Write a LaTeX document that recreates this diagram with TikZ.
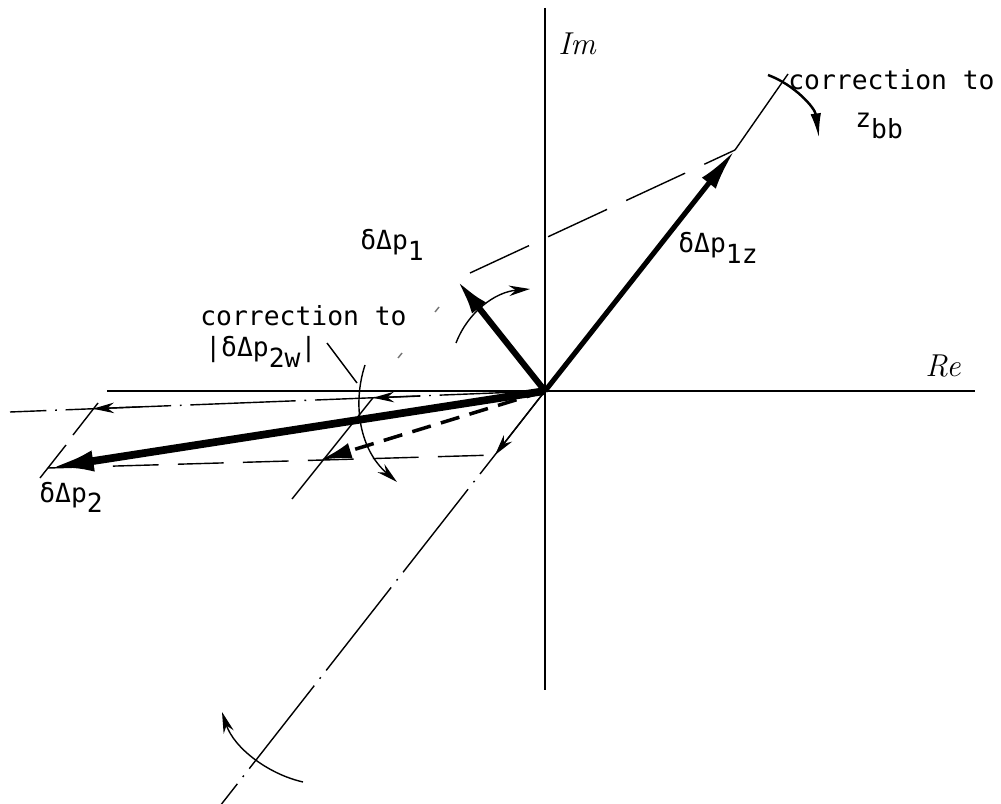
\documentclass[tikz,border=0pt]{standalone}
\usepackage{fontspec}
\newfontfamily\twr{DejaVu Sans Mono}
\usetikzlibrary{arrows.meta}
\newcommand{\lowr}[1]{\raisebox{-6pt}{#1}}
\begin{document}
\begin{tikzpicture}[x=0.02cm,y=-0.02cm,
  ax/.style={line width=1.1pt},
  thinln/.style={line width=0.8pt},
  dashdot/.style={line width=0.8pt, dash pattern=on 60pt off 5pt on 1pt off 5pt},
  longdash/.style={line width=0.8pt, dash pattern=on 26pt off 11pt},
  thinarrow/.style={line width=0.8pt, -{Stealth[length=12pt,width=6pt]}},
  lbl/.style={font=\twr\fontsize{15}{18}\selectfont, inner sep=0pt, anchor=base west},
  ital/.style={font=\fontsize{18}{20}\selectfont\itshape, inner sep=0pt, anchor=base west}]
\useasboundingbox (0,0) rectangle (1001,804);

% key points
\coordinate (O) at (545,391);
\coordinate (A1z) at (735,150);
\coordinate (A1) at (456,279);
\coordinate (A2) at (48,468);
\coordinate (D) at (495,455);
\coordinate (H) at (93,408.7);
\coordinate (H2) at (373,397.8);
\coordinate (Dd) at (320,460);
\coordinate (ImTop) at (545,8);
\coordinate (ImBot) at (545,690);
\coordinate (ReL) at (107,391);
\coordinate (ReR) at (975,391);
\coordinate (HL) at (10,412);
\coordinate (DiagEnd) at (220,806);

% axes
\draw[ax] (ImTop) -- (ImBot);
\draw[ax] (ReL) -- (ReR);

% construction lines
\draw[dashdot] (O) -- (DiagEnd);
\draw[dashdot] (O) -- (HL);
\draw[thinln] (98,403) -- (73,435);
\draw[thinln] (66,445) -- (40,478);
\draw[thinln] (H2) -- (292,499);
\draw[longdash] (A2) -- (D);
\draw[thinln, dash pattern=on 37pt off 12pt] (470,273) -- (A1z);
\draw[thinln, black!55] (439,307) -- (435,312);
\draw[thinln, black!55] (402,353) -- (398,358);
\draw[thinln] (A1z) -- (788,74);

% component arrows
\draw[thinarrow] (420,396.1) -- (H2);
\draw[thinarrow] (140,406.9) -- (H);
\draw[thinarrow] (O) -- (D);

% main vectors
\draw[line width=2pt, dash pattern=on 11pt off 6pt, -{Latex[length=18pt,width=9pt]}] (O) -- (Dd);
\draw[line width=4.4pt, -{Latex[length=26pt,width=12pt]}] (O) -- (A2);
\draw[line width=2.9pt, -{Latex[length=24pt,width=10pt]}] (O) -- (A1z);
\draw[line width=3.5pt, -{Latex[length=21pt,width=10pt]}] (O) -- (A1);

% rotation arrows
\draw[line width=1.4pt, -{Latex[length=14pt,width=6pt]}] (768,75) .. controls (795,85) and (815,108) .. (819,138);
\draw[thinarrow] (456,343) .. controls (468,312) and (495,292) .. (530,289);
\draw[thinarrow] (365,365) .. controls (352,405) and (360,450) .. (397,482);
\draw[thinarrow] (303,782) .. controls (268,774) and (234,748) .. (222,712);
\draw[thinln] (327,343) -- (357,383);

% labels
\node[lbl] (c1) at (788,90) {correction to};
\node[lbl] (zbb) at (855,128) {z\lowr{bb}};
\node[lbl] (c2) at (200,325) {correction to};
\node[lbl] (p2w) at (205,357) {|δΔp\lowr{2w}|};
\node[lbl] (p1) at (360,250) {δΔp\lowr{1}};
\node[lbl] (p1z) at (678,253) {δΔp\lowr{1z}};
\node[lbl] (p2) at (39,502) {δΔp\lowr{2}};
\node[ital] (im) at (558,55) {Im};
\node[ital] (re) at (925,377) {Re};
\end{tikzpicture}
\end{document}
